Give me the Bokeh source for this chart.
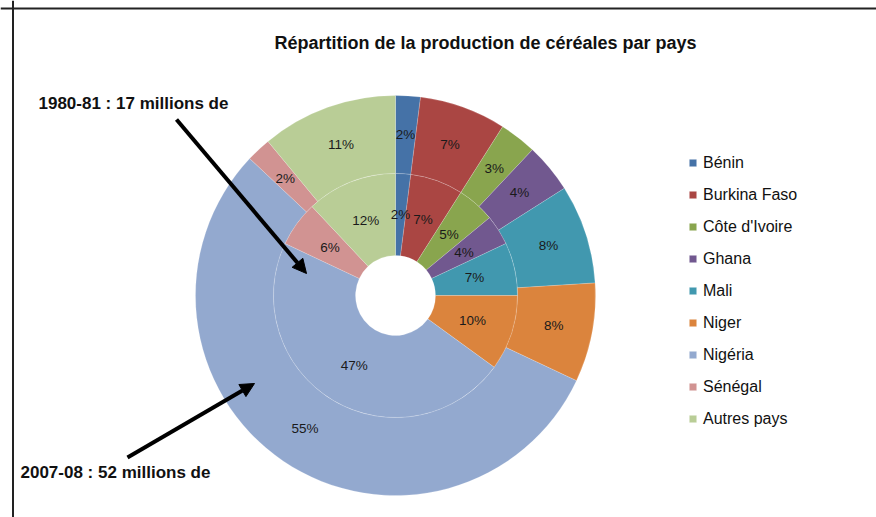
import math
from bokeh.plotting import figure
from bokeh.models import (Range1d, Label, Arrow, NormalHead, Span, Legend,
                          LegendItem, ColumnDataSource)
from bokeh.core.properties import value
from bokeh.embed import file_html
from bokeh.resources import INLINE

countries = ["Bénin", "Burkina Faso", "Côte d'Ivoire", "Ghana", "Mali",
             "Niger", "Nigéria", "Sénégal", "Autres pays"]
share_1980 = [2, 7, 5, 4, 7, 10, 47, 6, 12]   # inner ring (1980-81)
share_2007 = [2, 7, 3, 4, 8, 8, 55, 2, 11]    # outer ring (2007-08)
colors = ["#4572A7", "#AA4643", "#89A54E", "#71588F", "#4198AF",
          "#DB843D", "#93A9CF", "#D19392", "#B9CD96"]

title_text = "Répartition de la production de céréales par pays"
note_1980 = "1980-81 : 17 millions de"
note_2007 = "2007-08 : 52 millions de"

W, H = 876, 517
CX, CY = 395, 222
R_HOLE, R_MID, R_OUT = 40, 122, 200

FONT = "Liberation Sans"


def ring(values, r_in, r_out):
    total = float(sum(values))
    starts, ends, lx, ly, labels = [], [], [], [], []
    acc = 0.0
    for v in values:
        a0 = acc / total * 2 * math.pi          # clockwise from top
        a1 = (acc + v) / total * 2 * math.pi
        starts.append(math.pi / 2 - a1)
        ends.append(math.pi / 2 - a0)
        mid = (a0 + a1) / 2
        rm = (r_in + r_out) / 2
        lx.append(CX + rm * math.sin(mid))
        ly.append(CY + rm * math.cos(mid))
        labels.append(f"{round(v / total * 100)}%")
        acc += v
    return ColumnDataSource(dict(start=starts, end=ends, color=colors,
                                 lx=lx, ly=ly, label=labels,
                                 name=countries))


p = figure(width=W, height=H, output_backend="svg", toolbar_location=None,
           x_range=Range1d(0, W), y_range=Range1d(0, H), min_border=0,
           outline_line_color=None)
p.axis.visible = False
p.grid.visible = False
p.background_fill_color = "white"

src_out = ring(share_2007, R_MID, R_OUT)
src_in = ring(share_1980, R_HOLE, R_MID)

r_out = p.annular_wedge(x=CX, y=CY, inner_radius=R_MID, outer_radius=R_OUT,
                        start_angle="start", end_angle="end", source=src_out,
                        fill_color="color", line_color="white",
                        line_width=0.6, line_alpha=0.3)
r_in = p.annular_wedge(x=CX, y=CY, inner_radius=R_HOLE, outer_radius=R_MID,
                       start_angle="start", end_angle="end", source=src_in,
                       fill_color="color", line_color="white",
                       line_width=0.6, line_alpha=0.3)

for src in (src_out, src_in):
    p.text(x="lx", y="ly", text="label", source=src, text_align="center",
           text_baseline="middle", text_font=value(FONT),
           text_font_size="13.5px", text_color="#1a1a1a")

# legend
items = [LegendItem(label=c, renderers=[r_out], index=i)
         for i, c in enumerate(countries)]
legend = Legend(items=items, location=(678, 79), glyph_width=9,
                glyph_height=9, label_height=19, spacing=13,
                label_standoff=6, padding=10,
                label_text_font=FONT, label_text_font_size="16px",
                label_text_color="#111111", border_line_alpha=0,
                background_fill_alpha=0)
p.add_layout(legend, "center")

# title and notes
p.add_layout(Label(x=485, y=475, text=title_text, text_align="center",
                   text_baseline="middle", text_font=FONT,
                   text_font_size="18px", text_font_style="bold",
                   text_color="#111111"))
p.add_layout(Label(x=38, y=414, text=note_1980, text_align="left",
                   text_baseline="middle", text_font=FONT,
                   text_font_size="17px", text_font_style="bold",
                   text_color="#111111"))
p.add_layout(Label(x=20, y=45, text=note_2007, text_align="left",
                   text_baseline="middle", text_font=FONT,
                   text_font_size="17px", text_font_style="bold",
                   text_color="#111111"))

# arrows
for xs, ys, xe, ye in [(176, 398, 306, 244), (127, 60, 254, 134)]:
    p.add_layout(Arrow(x_start=xs, y_start=ys, x_end=xe, y_end=ye,
                       line_width=4, line_color="black",
                       end=NormalHead(size=14, fill_color="black",
                                      line_color="black", line_width=1)))

# frame lines
p.add_layout(Span(location=509, dimension="width", line_color="#222222",
                  line_width=2))
p.add_layout(Span(location=12.5, dimension="height", line_color="#222222",
                  line_width=2))

open("out.html", "w").write(file_html(p, INLINE))
